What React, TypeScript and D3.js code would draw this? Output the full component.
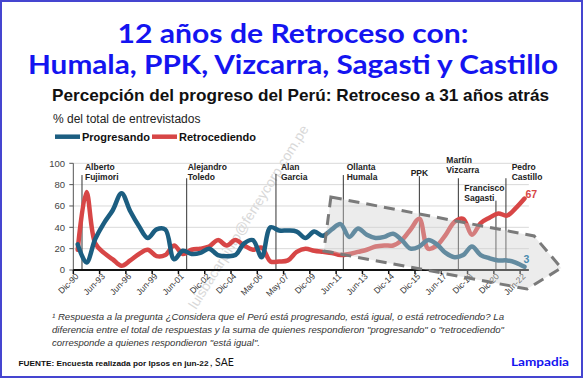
import React from 'react';
import * as d3 from 'd3';

const tickLabels = ['Dic-90','Jun-93','Jun-96','Jun-99','Jun-01','Dic-02','Dic-04','Mar-06','May-07','Dic-09','Jun-11','Jun-13','Dic-14','Dic-15','Jun-17','Dic-18','Dic-20','Jun-22'];
const progresando = [24,7,29,44,56,72,55,41,30,38,38,10,18,15,16,20,14,13,14,25,28,12,40,37,37,36,30,36,32,38,43,31,39,33,30,31,34,28,20,22,28,24,16,12,14,22,14,11,9,9,7,3];
const retrocediendo = [19,73,25,16,10,4,9,15,19,13,14,23,15,19,20,22,28,23,28,23,19,21,8,8,9,17,20,18,17,16,14,15,17,19,22,23,23,28,38,48,20,23,33,45,48,33,44,49,53,51,58,67];
const yTicks = [0,20,40,60,80,100];
const presidentNames = [['Alberto','Fujimori'],['Alejandro','Toledo'],['Alan','Garcia'],['Ollanta','Humala'],['PPK'],['Martín','Vizcarra'],['Francisco','Sagasti'],['Pedro','Castillo']];
const presidentPos = [0.49,12.44,22.63,30.32,39.0,43.45,47.74,48.88];
const presidentLineTop = [89,86,90,89,88,86,65,86];
// annotation box (pentagon) in data units [index, value]
const boxPts = [[28.9,68.4],[52.1,31.9],[55.2,1.9],[51.3,-17.8],[28.1,17.8]];

const arial = "'Liberation Sans', Arial, sans-serif";
const BLUE = '#1c5e81';
const RED = '#d74646';

// label layout: [dx from line, baseline y of first line, text-anchor]
const labelLayout: [number, number, string][] = [
  [3, 169.5, 'start'], [1, 169.5, 'start'], [5, 169.5, 'start'], [3.4, 169.5, 'start'],
  [0, 176, 'middle'], [-12, 162.5, 'start'], [-31.7, 190.5, 'start'], [5.7, 169.5, 'start'],
];

export default function App() {
  const W = 583, H = 379;
  const n = progresando.length;
  const x = d3.scaleLinear().domain([0, n - 1]).range([77.7, 524.5]);
  const y = d3.scaleLinear().domain([0, 100]).range([270, 163.3]);
  const line = d3.line<number>().x((_, i) => x(i)).y(d => y(d)).curve(d3.curveCatmullRom.alpha(0.5));
  const xa = x(-0.5), xb = x(n - 0.5);
  const boxPath = d3.line<number[]>().x(d => x(d[0])).y(d => y(d[1]))(boxPts) + 'Z';

  return (
    <svg width={W} height={H} style={{ position: 'absolute', left: 0, top: 0, background: '#fff' }} fontFamily={arial}>
      <rect x={1} y={1} width={W - 2} height={H - 3} fill="#fff" stroke="#4545d0" strokeWidth={2} />

      <text x={293} y={43} textAnchor="middle" fontFamily="Lato, 'Open Sans', sans-serif" fontWeight={700} fontSize={26} fill="#1414f0" textLength={351} lengthAdjust="spacingAndGlyphs">12 años de Retroceso con:</text>
      <text x={293} y={74} textAnchor="middle" fontFamily="Lato, 'Open Sans', sans-serif" fontWeight={700} fontSize={27} fill="#1414f0" textLength={530} lengthAdjust="spacingAndGlyphs">Humala, PPK, Vizcarra, Sagasti y Castillo</text>

      <text x={52} y={101} fontWeight={700} fontSize={17} fill="#111" textLength={497} lengthAdjust="spacingAndGlyphs">Percepción del progreso del Perú: Retroceso a 31 años atrás</text>
      <text x={53} y={123} fontSize={12} fill="#222">% del total de entrevistados</text>

      {/* legend */}
      <line x1={55} x2={80} y1={136.7} y2={136.7} stroke={BLUE} strokeWidth={4.5} />
      <text x={82} y={140.5} fontWeight={700} fontSize={11} fill="#111">Progresando</text>
      <line x1={152} x2={177} y1={136.7} y2={136.7} stroke={RED} strokeWidth={4.5} />
      <text x={179} y={140.5} fontWeight={700} fontSize={11} fill="#111">Retrocediendo</text>

      {/* watermark */}
      <text transform="translate(196,310) rotate(-58)" fontSize={14} fill="#d8d8d8">luisbacarpinto@ferreycorp.com.pe</text>

      {/* grid */}
      {yTicks.filter(t => t > 0).map(t => (
        <line key={t} x1={xa} x2={xb} y1={y(t)} y2={y(t)} stroke="#d9d9d9" strokeWidth={1} />
      ))}
      {yTicks.map(t => (
        <g key={'yt' + t}>
          <line x1={xa - 4} x2={xa} y1={y(t)} y2={y(t)} stroke="#555" />
          <text x={65} y={y(t) + 3.4} textAnchor="end" fontSize={9.5} fill="#444">{t}</text>
        </g>
      ))}
      <line x1={xa} x2={xa} y1={y(100)} y2={y(0)} stroke="#555" />

      {/* president lines */}
      {presidentPos.map((p, i) => (
        <line key={'pl' + i} x1={x(p)} x2={x(p)} y1={y(presidentLineTop[i])} y2={y(0)} stroke="#333" strokeWidth={1} />
      ))}

      <path d={line(retrocediendo) || ''} fill="none" stroke={RED} strokeWidth={4.5} strokeLinejoin="round" strokeLinecap="round" />
      <path d={line(progresando) || ''} fill="none" stroke={BLUE} strokeWidth={4.5} strokeLinejoin="round" strokeLinecap="round" />

      {/* x axis */}
      <line x1={xa} x2={xb} y1={y(0)} y2={y(0)} stroke="#111" strokeWidth={2} />
      {tickLabels.map((lab, k) => {
        const tx = x(3 * k - 0.5);
        const lx = x(3 * k);
        return (
          <g key={lab}>
            <line x1={tx} x2={tx} y1={y(0)} y2={y(0) + 4} stroke="#111" strokeWidth={1.5} />
            <text transform={`translate(${lx + 1.5},277) rotate(-45)`} textAnchor="end" fontSize={8.5} fill="#333">{lab}</text>
          </g>
        );
      })}

      {/* annotation box */}
      <path d={boxPath} fill="#d0d0d0" fillOpacity={0.4} stroke="#7a7a7a" strokeWidth={3} strokeDasharray="11 7" />

      {/* president labels */}
      {presidentNames.map((names, i) => {
        const [dx, by, anchor] = labelLayout[i];
        return (
          <text key={'pn' + i} x={x(presidentPos[i]) + dx} y={by} textAnchor={anchor as any} fontWeight={700} fontSize={8.5} fill="#222">
            {names.map((nm, j) => (
              <tspan key={j} x={x(presidentPos[i]) + dx} dy={j === 0 ? 0 : 10}>{nm}</tspan>
            ))}
          </text>
        );
      })}

      {/* end labels */}
      <text x={x(n - 1) + 1} y={y(retrocediendo[n - 1]) - 1} fontWeight={700} fontSize={10.5} fill={RED}>{retrocediendo[n - 1]}</text>
      <text x={x(n - 1) - 1} y={y(progresando[n - 1]) - 4} fontWeight={700} fontSize={10.5} fill="#4d8db0">{progresando[n - 1]}</text>

      {/* footnote */}
      <g fontStyle="italic" fontSize={9.8} fill="#333">
        <text x={52} y={320} textLength={452} lengthAdjust="spacingAndGlyphs">¹ Respuesta a la pregunta ¿Considera que el Perú está progresando, está igual, o está retrocediendo? La</text>
        <text x={52} y={333} textLength={452} lengthAdjust="spacingAndGlyphs">diferencia entre el total de respuestas y la suma de quienes respondieron "progresando" o "retrocediendo"</text>
        <text x={52} y={346} textLength={208} lengthAdjust="spacingAndGlyphs">corresponde a quienes respondieron "está igual".</text>
      </g>
      <text x={18.5} y={366} fontWeight={700} fontSize={7.8} fill="#111" textLength={190} lengthAdjust="spacingAndGlyphs">FUENTE: Encuesta realizada por Ipsos en jun-22</text>
      <text x={210} y={366} fontFamily="Lato, 'Open Sans', sans-serif" fontSize={10.5} fill="#111">, SAE</text>
      <text x={511} y={366} fontFamily="Lato, 'Open Sans', sans-serif" fontWeight={700} fontSize={12} fill="#1414f0" textLength={58} lengthAdjust="spacingAndGlyphs">Lampadia</text>
    </svg>
  );
}
